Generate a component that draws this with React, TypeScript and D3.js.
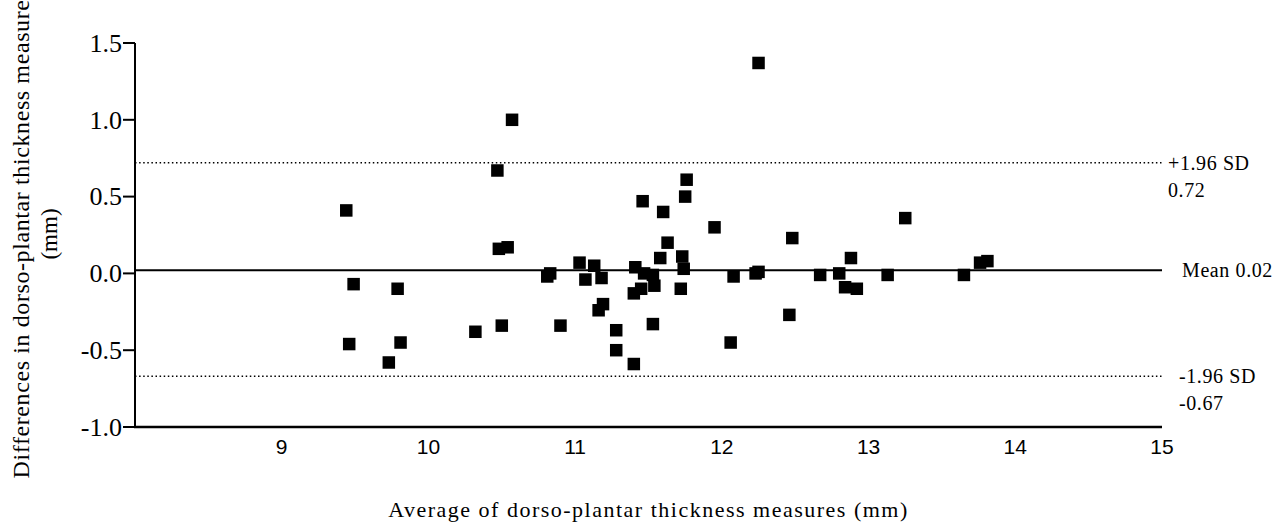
import React from "react";
import * as d3 from "d3";

// ---- data ----
const xTickValues = [9, 10, 11, 12, 13, 14, 15];
const yTickValues = [-1.0, -0.5, 0.0, 0.5, 1.0, 1.5];

const averages = [
  10.57, 10.47, 9.44, 10.48, 10.54, 9.49, 9.79, 10.81, 10.83, 11.03,
  11.13, 11.07, 9.46, 9.81, 9.73, 10.32, 10.5, 10.9,
  11.76, 11.75, 11.46, 11.6, 11.95, 12.48, 11.63, 11.58, 11.73, 11.41,
  11.74, 11.18, 11.47, 11.53, 11.54, 11.45, 11.4, 11.72, 12.08, 12.23,
  12.25, 11.19, 11.16, 11.28, 11.53, 11.28, 11.4, 12.06, 12.46,
  12.25,
  12.67, 12.8, 12.88, 12.84, 12.92, 13.13, 13.25, 13.65, 13.76, 13.81,
];
const differences = [
  1.0, 0.67, 0.41, 0.16, 0.17, -0.07, -0.1, -0.02, 0.0, 0.07,
  0.05, -0.04, -0.46, -0.45, -0.58, -0.38, -0.34, -0.34,
  0.61, 0.5, 0.47, 0.4, 0.3, 0.23, 0.2, 0.1, 0.11, 0.04,
  0.03, -0.03, 0.0, -0.01, -0.08, -0.1, -0.13, -0.1, -0.02, 0.0,
  0.01, -0.2, -0.24, -0.37, -0.33, -0.5, -0.59, -0.45, -0.27,
  1.37,
  -0.01, 0.0, 0.1, -0.09, -0.1, -0.01, 0.36, -0.01, 0.07, 0.08,
];

const meanDiff = 0.02;
const upperLimit = 0.72;
const lowerLimit = -0.67;

const xTitle = "Average of dorso-plantar thickness measures (mm)";
const yTitleLines = ["Differences in dorso-plantar thickness  measures", "(mm)"];

const W = 1288;
const H = 525;

export default function App() {
  const x = d3.scaleLinear().domain([8, 15]).range([135, 1162]);
  const y = d3.scaleLinear().domain([-1, 1.5]).range([427, 43]);
  const fmt = d3
    .formatLocale({ decimal: ".", thousands: ",", grouping: [3], currency: ["$", ""], minus: "-" })
    .format(".1f");
  const [x0, x1] = x.range();
  const serif = "'Liberation Serif', 'Times New Roman', serif";
  const sq = 12.5;
  const points = averages.map((a, i) => ({ a, d: differences[i] }));

  return (
    <svg
      width={W}
      height={H}
      style={{ position: "absolute", left: 0, top: 0, background: "#fff" }}
      fontFamily={serif}
    >
      {/* reference lines */}
      <line x1={x0} x2={x1} y1={y(upperLimit)} y2={y(upperLimit)} stroke="#000" strokeWidth={1.5} strokeDasharray="1.5 2.6" />
      <line x1={x0} x2={x1} y1={y(lowerLimit)} y2={y(lowerLimit)} stroke="#000" strokeWidth={1.5} strokeDasharray="1.5 2.6" />
      <line x1={x0} x2={x1} y1={y(meanDiff)} y2={y(meanDiff)} stroke="#000" strokeWidth={2} />

      {/* axes */}
      <line x1={x0} x2={x0} y1={y(1.5)} y2={y(-1)} stroke="#000" strokeWidth={2} />
      <line x1={x0 - 1} x2={x1} y1={y(-1)} y2={y(-1)} stroke="#000" strokeWidth={2.5} />
      {yTickValues.map((v) => (
        <g key={v}>
          <line x1={x0 - 12} x2={x0} y1={y(v)} y2={y(v)} stroke="#000" strokeWidth={2} />
          <text x={x0 - 13} y={y(v)} dy="0.34em" textAnchor="end" fontSize={26}>
            {fmt(v)}
          </text>
        </g>
      ))}
      {xTickValues.map((v) => (
        <text
          key={v}
          x={x(v)}
          y={446}
          dy="0.36em"
          textAnchor="middle"
          fontSize={21}
          fontFamily="'Liberation Sans Narrow', 'Arial Narrow', 'Liberation Sans', Arial, sans-serif"
        >
          {v}
        </text>
      ))}

      {/* points */}
      {points.map((p, i) => (
        <rect key={i} x={x(p.a) - sq / 2} y={y(p.d) - sq / 2} width={sq} height={sq} fill="#000" />
      ))}

      {/* right-side labels */}
      <g fontSize={20} letterSpacing={0.6}>
        <text x={1168} y={y(upperLimit)} dy="0.35em">+1.96 SD</text>
        <text x={1168} y={y(upperLimit) + 27} dy="0.35em">{upperLimit.toFixed(2)}</text>
        <text x={1182} y={y(meanDiff)} dy="0.35em">Mean {meanDiff.toFixed(2)}</text>
        <text x={1179} y={y(lowerLimit)} dy="0.35em">-1.96 SD</text>
        <text x={1179} y={y(lowerLimit) + 27} dy="0.35em">{lowerLimit.toFixed(2)}</text>
      </g>

      {/* axis titles */}
      <text x={(x0 + x1) / 2} y={517} textAnchor="middle" fontSize={22} letterSpacing={1.5}>
        {xTitle}
      </text>
      <g transform={`translate(0, 234) rotate(-90)`}>
        <text x={0} y={29} textAnchor="middle" fontSize={24} letterSpacing={0.6}>
          {yTitleLines[0]}
        </text>
        <text x={0} y={57} textAnchor="middle" fontSize={23}>
          {yTitleLines[1]}
        </text>
      </g>
    </svg>
  );
}
